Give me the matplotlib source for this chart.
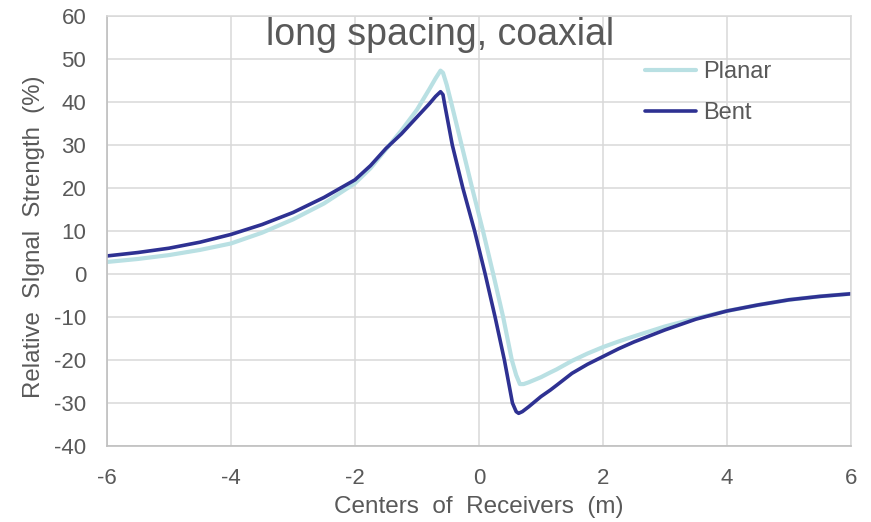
import matplotlib
matplotlib.use("Agg")
import matplotlib.pyplot as plt

# receiver-centre positions (m) and relative signal strength (%), one list per model
x_planar = [-6, -5.5, -5, -4.5, -4, -3.5, -3, -2.5, -2, -1.75, -1.5, -1.25, -1,
            -0.8, -0.7, -0.62, -0.58, -0.52, -0.45, -0.28, -0.11, 0.065, 0.23,
            0.39, 0.53, 0.6, 0.66, 0.72, 0.8, 1.0, 1.15, 1.25, 1.5, 1.75, 2,
            2.25, 2.5, 3, 3.5, 4, 4.5, 5, 5.5, 6]
planar = [2.8, 3.5, 4.4, 5.6, 7.1, 9.6, 12.7, 16.4, 21.1, 24.6, 29.0, 33.4, 38.2,
          43.0, 45.5, 47.3, 46.8, 44.0, 40.0, 30.0, 20.0, 10.0, 0.0,
          -10.0, -20.0, -23.5, -25.6, -25.6, -25.2, -24.0, -22.9, -22.2, -20.2,
          -18.5, -17.0, -15.7, -14.5, -12.2, -10.3, -8.6, -7.2, -6.0, -5.2, -4.6]

x_bent = [-6, -5.5, -5, -4.5, -4, -3.5, -3, -2.5, -2, -1.75, -1.5, -1.25, -1,
          -0.8, -0.7, -0.62, -0.58, -0.56, -0.43, -0.26, -0.07, 0.10, 0.26,
          0.41, 0.54, 0.6, 0.64, 0.7, 0.8, 0.9, 1.0, 1.15, 1.25, 1.5, 1.75, 2,
          2.25, 2.5, 3, 3.5, 4, 4.5, 5, 5.5, 6]
bent = [4.2, 5.0, 6.0, 7.4, 9.2, 11.5, 14.3, 17.8, 21.9, 25.2, 29.2, 32.6, 36.5,
        39.6, 41.3, 42.4, 41.7, 40.0, 30.0, 20.0, 10.0, 0.0, -10.0,
        -20.0, -30.0, -32.0, -32.4, -32.0, -30.9, -29.7, -28.5, -27.0, -25.9,
        -23.1, -21.0, -19.2, -17.4, -15.8, -13.0, -10.5, -8.6, -7.2, -6.0,
        -5.2, -4.6]

x_ticks = [-6, -4, -2, 0, 2, 4, 6]
y_ticks = list(range(-40, 61, 10))

txt = "#595959"
grid_c = "#d9d9d9"

plt.rcParams["font.family"] = ["Liberation Sans", "DejaVu Sans"]
plt.rcParams["axes.unicode_minus"] = False

fig = plt.figure(figsize=(8.71, 5.22), dpi=100)
ax = fig.add_axes([0.1228, 0.1456, 0.8542, 0.8237])

ax.plot(x_planar, planar, color="#b9e0e3", lw=3.0, label="Planar",
        solid_joinstyle="round", solid_capstyle="round")
ax.plot(x_bent, bent, color="#2e3192", lw=2.6, label="Bent",
        solid_joinstyle="round", solid_capstyle="round")

ax.set_xlim(-6, 6)
ax.set_ylim(-40, 60)
ax.set_xticks(x_ticks)
ax.set_yticks(y_ticks)
ax.grid(True, color=grid_c, lw=1.1)
ax.set_axisbelow(True)
for s in ["top", "right"]:
    ax.spines[s].set_color(grid_c)
    ax.spines[s].set_linewidth(1.1)
for s in ["left", "bottom"]:
    ax.spines[s].set_color("#bfbfbf")
    ax.spines[s].set_linewidth(1.2)

ax.tick_params(axis="both", length=0, labelsize=16, colors=txt)
ax.tick_params(axis="y", pad=15)
ax.tick_params(axis="x", pad=16)

ax.set_xlabel("Centers  of  Receivers  (m)", fontsize=17.5, color=txt)
ax.set_ylabel("Relative  SIgnal  Strength  (%)", fontsize=17.3, color=txt)
ax.xaxis.set_label_coords(0.5, -0.117)
ax.yaxis.set_label_coords(-0.083, 0.486)

ax.text(0.4476, 0.9326, "long spacing, coaxial", transform=ax.transAxes,
        ha="center", va="baseline", fontsize=27, color=txt)

ax.legend(loc="upper left", bbox_to_anchor=(0.694, 0.945), frameon=False,
          fontsize=17, handlelength=2.2, labelspacing=0.8, handletextpad=0.3,
          labelcolor=txt)

fig.savefig("out.png", dpi=100)
